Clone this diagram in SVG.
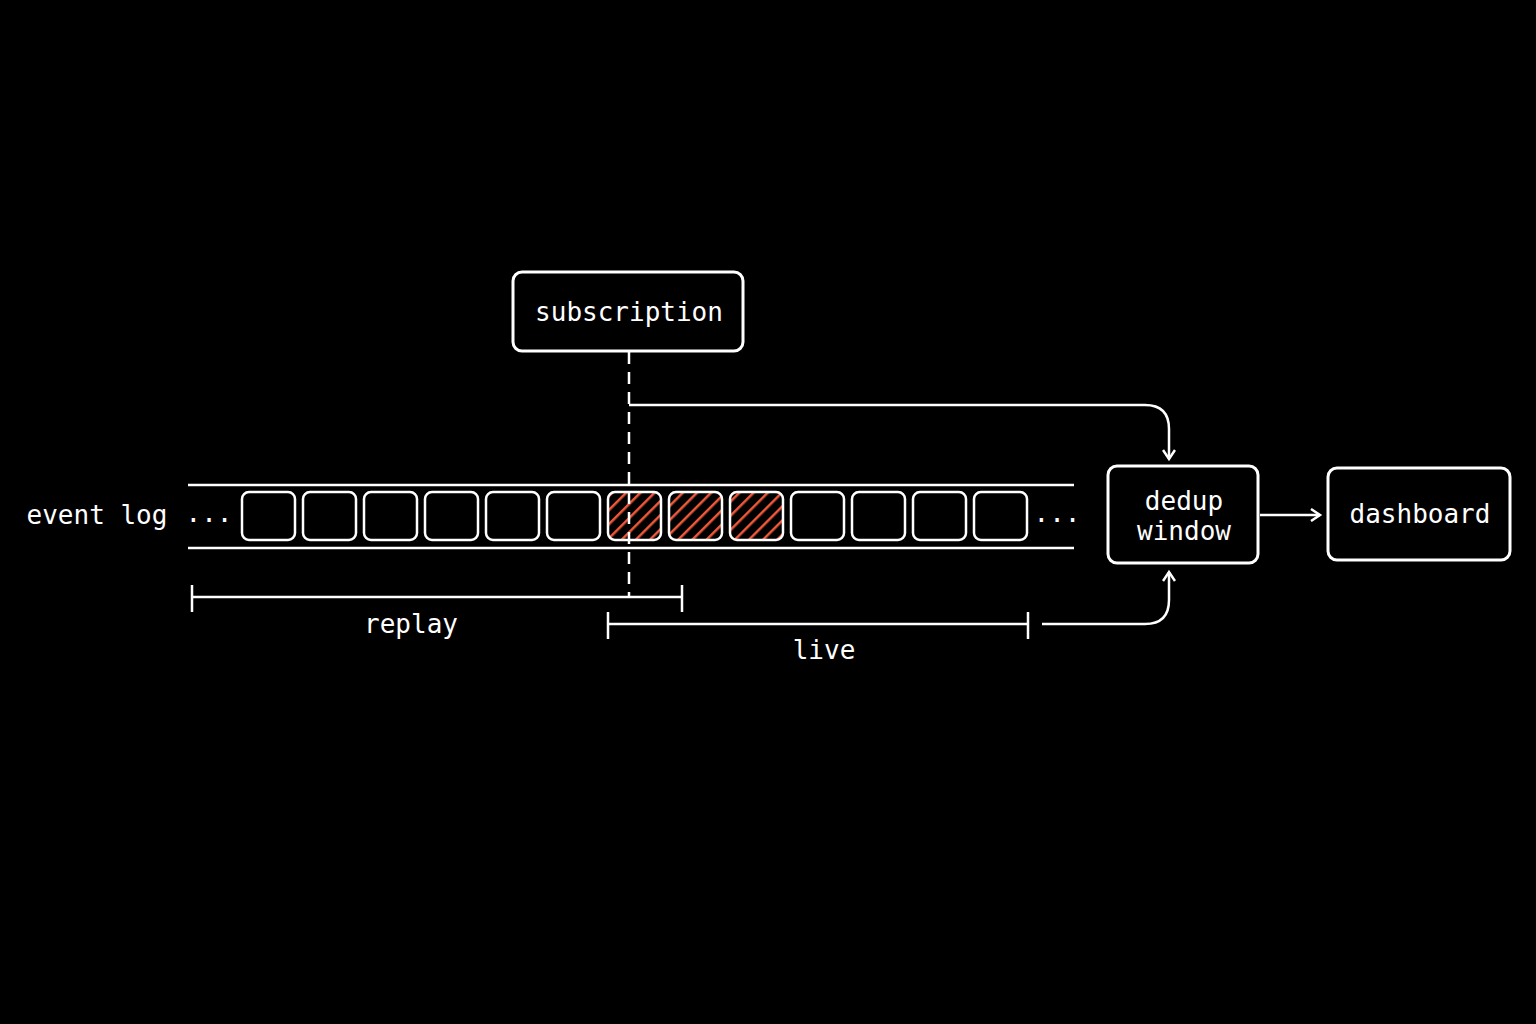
<svg xmlns="http://www.w3.org/2000/svg" width="1536" height="1024" viewBox="0 0 1536 1024">
<defs>
<pattern id="hatch" width="10" height="10" patternUnits="userSpaceOnUse" patternTransform="rotate(45)">
<rect width="10" height="10" fill="#000"/>
<line x1="0" y1="0" x2="0" y2="10" stroke="#f0583a" stroke-width="5"/>
</pattern>
<marker id="arr" markerWidth="14" markerHeight="14" refX="11" refY="7" orient="auto" markerUnits="userSpaceOnUse">
<path d="M2,1 L11,7 L2,13" fill="none" stroke="#fff" stroke-width="2.5"/>
</marker>
</defs>
<style>
.box{fill:#000;stroke:#fff;stroke-width:3}
.cell{fill:#000;stroke:#fff;stroke-width:2.5}
.hc{fill:url(#hatch);stroke:#fff;stroke-width:2.5}
.ln{fill:none;stroke:#fff;stroke-width:2.5}
text{font-family:"DejaVu Sans Mono",monospace;fill:#fff;font-size:26px;text-anchor:middle}
</style>
<rect width="1536" height="1024" fill="#000"/>
<g id="log">
<line class="ln" x1="188" y1="485" x2="1074" y2="485"/>
<line class="ln" x1="188" y1="548" x2="1074" y2="548"/>
<text x="97" y="524">event log</text>
<text x="209" y="522">...</text>
<text x="1057" y="522">...</text>
<rect class="cell" x="242" y="492" width="53" height="48" rx="7"/>
<rect class="cell" x="303" y="492" width="53" height="48" rx="7"/>
<rect class="cell" x="364" y="492" width="53" height="48" rx="7"/>
<rect class="cell" x="425" y="492" width="53" height="48" rx="7"/>
<rect class="cell" x="486" y="492" width="53" height="48" rx="7"/>
<rect class="cell" x="547" y="492" width="53" height="48" rx="7"/>
<rect class="hc" x="608" y="492" width="53" height="48" rx="7"/>
<rect class="hc" x="669" y="492" width="53" height="48" rx="7"/>
<rect class="hc" x="730" y="492" width="53" height="48" rx="7"/>
<rect class="cell" x="791" y="492" width="53" height="48" rx="7"/>
<rect class="cell" x="852" y="492" width="53" height="48" rx="7"/>
<rect class="cell" x="913" y="492" width="53" height="48" rx="7"/>
<rect class="cell" x="974" y="492" width="53" height="48" rx="7"/>
</g>
<g id="connectors">
<line class="ln" x1="629" y1="352" x2="629" y2="597" stroke-dasharray="12,8"/>
<path class="ln" d="M629,405 H1145 Q1169,405 1169,429 V459" marker-end="url(#arr)"/>
<path class="ln" d="M1042,624 H1145 Q1169,624 1169,600 V572" marker-end="url(#arr)"/>
<line class="ln" x1="1260" y1="515" x2="1320" y2="515" marker-end="url(#arr)"/>
<path class="ln" d="M192,585 V612 M192,597 H682 M682,585 V612"/>
<path class="ln" d="M608,612 V639 M608,624 H1028 M1028,612 V639"/>
<text x="411" y="633">replay</text>
<text x="824" y="659">live</text>
</g>
<g id="subscription">
<rect class="box" x="513" y="272" width="230" height="79" rx="9"/>
<text x="629" y="321">subscription</text>
</g>
<g id="dedup">
<rect class="box" x="1108" y="466" width="150" height="97" rx="9"/>
<text x="1184" y="510">dedup</text>
<text x="1184" y="540">window</text>
</g>
<g id="dashboard">
<rect class="box" x="1328" y="468" width="182" height="92" rx="9"/>
<text x="1420" y="523">dashboard</text>
</g>
</svg>
